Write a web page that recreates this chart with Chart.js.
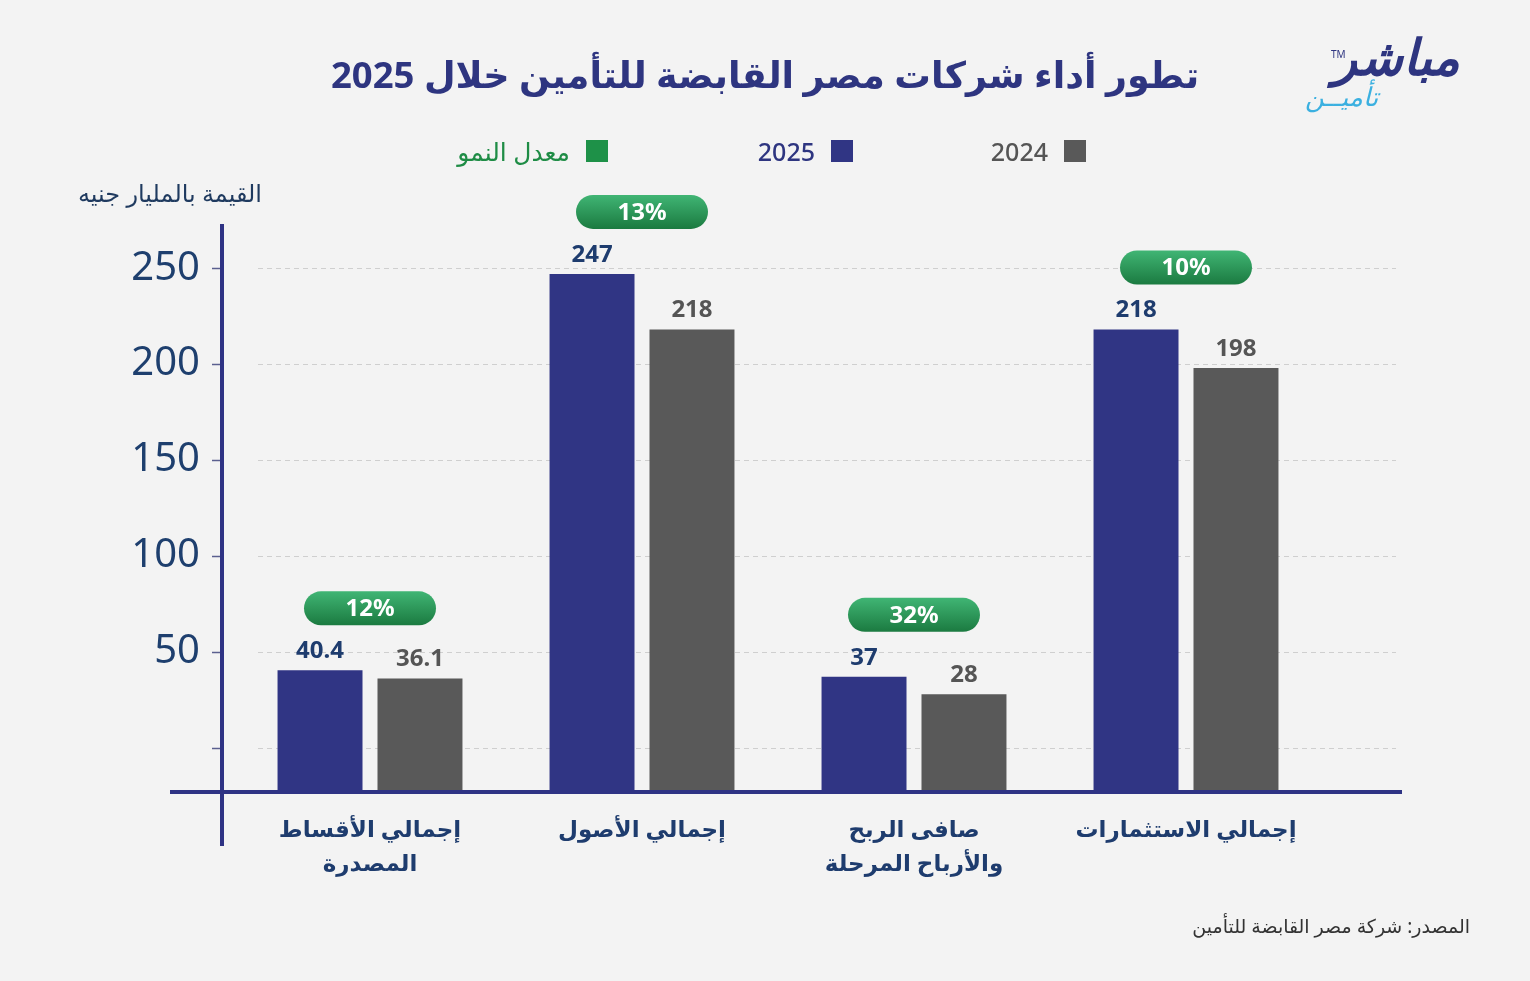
<!DOCTYPE html>
<html lang="ar">
<head>
<meta charset="utf-8">
<script src="https://cdn.jsdelivr.net/npm/chart.js@4/dist/chart.umd.min.js"></script>
<style>
  body { margin: 0; background: #f3f3f3; }
  #wrap { position: relative; width: 1530px; height: 981px; background: #f3f3f3; overflow: hidden;
          font-family: 'Noto Sans', 'DejaVu Sans', sans-serif; }
  #chartBox { position: absolute; left: 0; top: 0; width: 1530px; height: 981px; }
  .abs { position: absolute; white-space: nowrap; }
  #title { left: 0; width: 1530px; top: 49px; text-align: center; font-size: 36.5px; font-weight: 700; color: #2e3580; direction: rtl; }
  .legend { top: 134px; font-size: 25px; font-weight: 500; display: flex; align-items: center; direction: rtl; }
  .legend span.sw { display: inline-block; width: 22px; height: 22px; margin-left: 16px; }
  #yTitle { left: 78px; top: 176px; font-size: 24px; color: #1f3a5f; direction: rtl; }
  #source { right: 60px; top: 913px; font-size: 19px; color: #333; direction: rtl; }
  #logo1 { right: 70px; top: 22px; font-size: 50px; font-weight: 800; font-style: italic; color: #2e3580; direction: rtl; }
  #logo2 { right: 152px; top: 78px; font-size: 26px; font-style: italic; color: #3bb0e0; direction: rtl; }
  #tm { left: 1331px; top: 47px; font-size: 10px; color: #2e3580; }
</style>
</head>
<body>
<div id="wrap">
  <div id="chartBox"><canvas id="growthChart"></canvas></div>
  <div id="title" class="abs">تطور أداء شركات مصر القابضة للتأمين خلال 2025</div>
  <div class="abs legend" style="right:444px; color:#555;"><span class="sw" style="background:#595959"></span>2024</div>
  <div class="abs legend" style="right:677px; color:#2e3580;"><span class="sw" style="background:#303584"></span>2025</div>
  <div class="abs legend" style="right:922px; color:#1e8c45;"><span class="sw" style="background:#1e9148"></span>معدل النمو</div>
  <div id="yTitle" class="abs">القيمة بالمليار جنيه</div>
  <div id="source" class="abs">المصدر: شركة مصر القابضة للتأمين</div>
  <div id="logo1" class="abs">مباشر</div>
  <div id="logo2" class="abs">تأميــن</div>
  <div id="tm" class="abs">TM</div>
</div>
<script>
const categories = [
    ['إجمالي الأقساط', 'المصدرة'],
    ['إجمالي الأصول'],
    ['صافى الربح', 'والأرباح المرحلة'],
    ['إجمالي الاستثمارات']
];
const values2025 = [40.4, 247, 37, 218];
const values2024 = [36.1, 218, 28, 198];
const growthRates = ['12%', '13%', '32%', '10%'];
const yTicks = [0, 50, 100, 150, 200, 250];

const NAVY = '#303584';
const GRAY = '#595959';
const FONT = "'Noto Sans', 'DejaVu Sans', sans-serif";

// خطوط الشبكة المتقطعة خلف الأعمدة
const gridPlugin = {
    id: 'gridPlugin',
    beforeDatasetsDraw(chart) {
        const ctx = chart.ctx;
        const y = chart.scales.y;
        ctx.save();
        ctx.strokeStyle = '#cfcfcf';
        ctx.lineWidth = 1;
        ctx.setLineDash([5, 4]);
        y.ticks.forEach(t => {
            const py = Math.round(y.getPixelForValue(t.value)) + 0.5;
            ctx.beginPath();
            ctx.moveTo(258, py);
            ctx.lineTo(1396, py);
            ctx.stroke();
        });
        ctx.restore();
    }
};

// المحاور، القيم فوق الأعمدة وشارات النمو
const overlayPlugin = {
    id: 'overlayPlugin',
    afterDatasetsDraw(chart) {
        const ctx = chart.ctx;
        const y = chart.scales.y;
        const area = chart.chartArea;
        ctx.save();

        // علامات المحور
        ctx.strokeStyle = '#5a5f8f';
        ctx.lineWidth = 1.5;
        y.ticks.forEach(t => {
            const py = Math.round(y.getPixelForValue(t.value)) + 0.5;
            ctx.beginPath();
            ctx.moveTo(212, py);
            ctx.lineTo(222, py);
            ctx.stroke();
        });

        // خطوط المحاور
        ctx.fillStyle = '#2e3384';
        ctx.fillRect(170, area.bottom - 2, 1232, 4);
        ctx.fillRect(220, area.top, 4, 846 - area.top);

        // القيم
        ctx.textAlign = 'center';
        ctx.textBaseline = 'middle';
        ctx.font = `bold 24px ${FONT}`;
        const colors = ['#1e3c6e', '#555555'];
        chart.data.datasets.forEach((ds, di) => {
            const meta = chart.getDatasetMeta(di);
            meta.data.forEach((bar, i) => {
                ctx.fillStyle = colors[di];
                ctx.fillText(ds.data[i], bar.x, bar.y - 19);
            });
        });

        // شارات معدل النمو
        const m0 = chart.getDatasetMeta(0).data;
        const m1 = chart.getDatasetMeta(1).data;
        growthRates.forEach((g, i) => {
            const cx = (m0[i].x + m1[i].x) / 2;
            const cy = Math.min(m0[i].y, m1[i].y) - 62;
            const w = 132, h = 34;
            const grad = ctx.createLinearGradient(0, cy - h / 2, 0, cy + h / 2);
            grad.addColorStop(0, '#40b574');
            grad.addColorStop(1, '#1b7a40');
            ctx.fillStyle = grad;
            ctx.beginPath();
            ctx.roundRect(cx - w / 2, cy - h / 2, w, h, h / 2);
            ctx.fill();
            ctx.fillStyle = '#ffffff';
            ctx.font = `bold 24px ${FONT}`;
            ctx.fillText(g, cx, cy + 1);
        });
        ctx.restore();
    }
};

const ctx = document.getElementById('growthChart').getContext('2d');
const growthChart = new Chart(ctx, {
    type: 'bar',
    data: {
        labels: categories,
        datasets: [
            { label: '2025', data: values2025, backgroundColor: NAVY, base: -23 },
            { label: '2024', data: values2024, backgroundColor: GRAY, base: -23 }
        ]
    },
    options: {
        responsive: true,
        maintainAspectRatio: false,
        animation: false,
        categoryPercentage: 0.735,
        barPercentage: 0.85,
        layout: { padding: { left: 0, right: 208, top: 224, bottom: 0 } },
        plugins: {
            legend: { display: false },
            tooltip: { enabled: false }
        },
        scales: {
            x: {
                grid: { display: false, drawTicks: false },
                border: { display: false },
                ticks: {
                    color: '#1e3c6e',
                    padding: 22,
                    font: { family: FONT, size: 23, weight: 'bold', lineHeight: 1.45 }
                },
                afterFit(scale) { scale.height = 189; }
            },
            y: {
                min: -23,
                max: 273,
                grid: { display: false, drawTicks: false },
                border: { display: false },
                afterBuildTicks(scale) { scale.ticks = yTicks.map(v => ({ value: v })); },
                afterFit(scale) { scale.width = 234; },
                ticks: {
                    color: '#1e3f6e',
                    padding: 34,
                    font: { family: FONT, size: 40 },
                    callback: v => (v === 0 ? '' : v)
                }
            }
        }
    },
    plugins: [gridPlugin, overlayPlugin]
});
</script>
</body>
</html>
